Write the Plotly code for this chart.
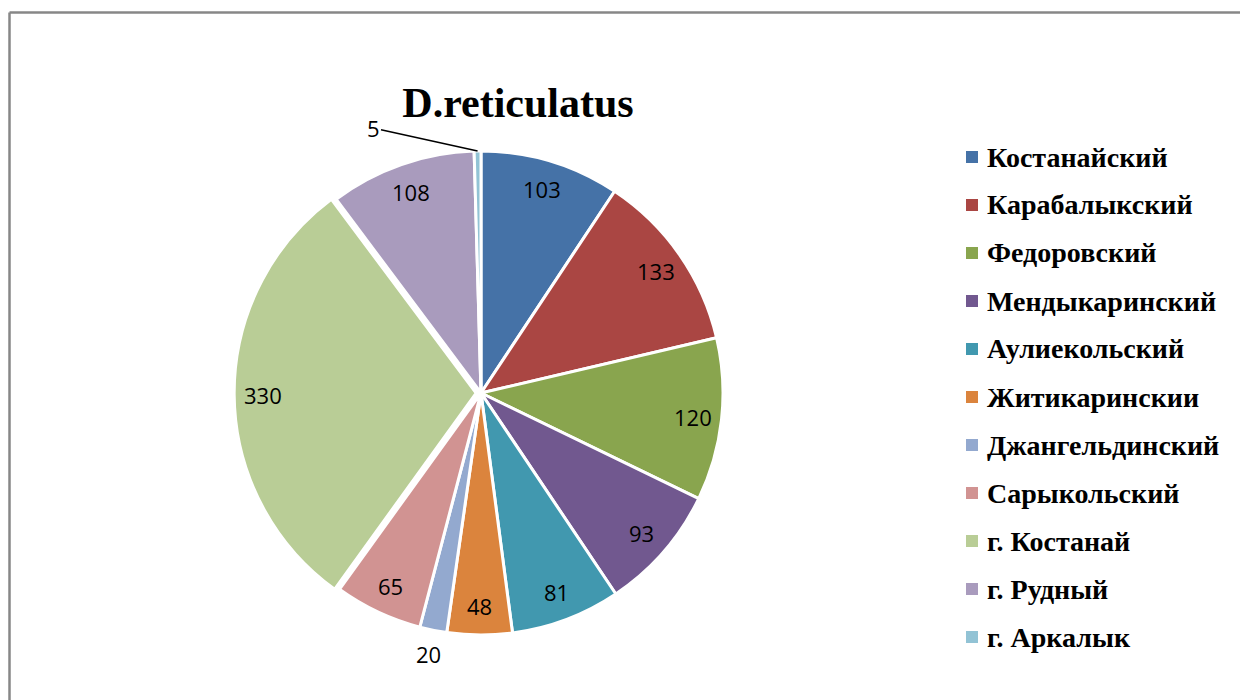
import math
import plotly.graph_objects as go

labels = ["Костанайский", "Карабалыкский", "Федоровский", "Мендыкаринский",
          "Аулиекольский", "Житикаринскии", "Джангельдинский", "Сарыкольский",
          "г. Костанай", "г. Рудный", "г. Аркалык"]
values = [103, 133, 120, 93, 81, 48, 20, 65, 330, 108, 5]
colors = ["#4572A7", "#AA4643", "#89A54E", "#71588F", "#4198AF", "#DB843D",
          "#93A9CF", "#D19392", "#B9CD96", "#A99BBD", "#92C3D5"]
label_radius = [0.88] * 6 + [1.10] + [0.88] * 3 + [None]
pulls = [0, 0, 0, 0, 0, 0, 0, 0, 0.02, 0, 0]

W, H = 1248, 700
OFF = 8  # page body margin


def X(px):
    return (px - OFF) / W


def Y(py):
    return 1 - (py - OFF) / H


cx, cy, R = 481, 393, 242
half = R * (1 + max(pulls))

fig = go.Figure(go.Pie(
    labels=labels, values=values, sort=False, direction="clockwise", rotation=0,
    marker=dict(colors=colors, line=dict(color="white", width=3)),
    pull=pulls, textinfo="none",
    showlegend=False, hoverinfo="label+value",
    domain=dict(x=[X(cx - half), X(cx + half)], y=[Y(cy + half), Y(cy - half)]),
))

shapes = [
    dict(type="line", xref="paper", yref="paper", x0=X(9.5), x1=1.01, y0=Y(12.5), y1=Y(12.5),
         line=dict(color="#878787", width=2.5)),
    dict(type="line", xref="paper", yref="paper", x0=X(9.5), x1=X(9.5), y0=Y(12.5), y1=-0.01,
         line=dict(color="#878787", width=2.5)),
]
annotations = []

# custom legend built from labels/colors
for i, (lab, col) in enumerate(zip(labels, colors)):
    yp = 157 + 48 * i
    shapes.append(dict(type="rect", xref="paper", yref="paper",
                       x0=X(966), x1=X(978), y0=Y(yp + 6), y1=Y(yp - 6),
                       fillcolor=col, line=dict(width=0)))
    annotations.append(dict(x=X(985), y=Y(yp), xref="paper", yref="paper",
                            xanchor="left", yanchor="middle", showarrow=False,
                            text="<b>" + lab + "</b>",
                            font=dict(family="Liberation Serif", size=28, color="black")))

# data labels placed along each slice bisector
total = sum(values)
cum = 0
for v, rf, pl in zip(values, label_radius, pulls):
    mid = (cum + v / 2) / total * 2 * math.pi
    cum += v
    if rf is None:
        # leader-line label for the tiny slice
        px = cx + R * math.sin(mid)
        py = cy - R * math.cos(mid)
        annotations.append(dict(x=X(px), y=Y(py), xref="paper", yref="paper",
                                text=str(v), showarrow=True, arrowhead=0, arrowwidth=1.5,
                                arrowcolor="black", ax=373 - px, ay=128 - py,
                                font=dict(family="Open Sans", size=22, color="black")))
        continue
    rr = R * (rf + pl)
    px = cx + rr * math.sin(mid)
    py = cy - rr * math.cos(mid)
    annotations.append(dict(x=X(px), y=Y(py), xref="paper", yref="paper",
                            text=str(v), showarrow=False,
                            xanchor="center", yanchor="middle",
                            font=dict(family="Open Sans", size=22, color="black")))

fig.update_layout(
    width=W, height=H, margin=dict(l=0, r=0, t=0, b=0),
    paper_bgcolor="white", plot_bgcolor="white",
    title=dict(text="<b>D.reticulatus</b>", x=X(518), y=Y(102),
               xanchor="center", yanchor="middle",
               font=dict(family="Liberation Serif", size=42, color="black")),
    shapes=shapes, annotations=annotations,
)

fig.write_html("out.html")
